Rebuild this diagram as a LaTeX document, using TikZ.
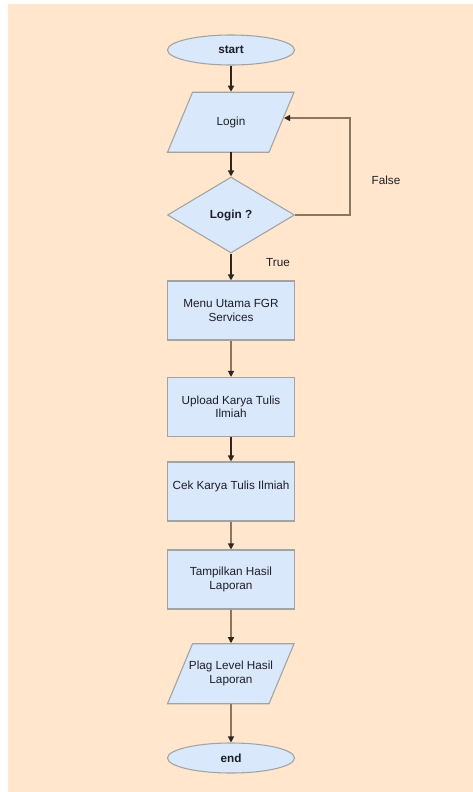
\documentclass[tikz,border=0pt]{standalone}
\usepackage{fontspec}
\setmainfont{Liberation Sans}
\usetikzlibrary{shapes.geometric,arrows.meta,backgrounds}
\definecolor{peach}{HTML}{FFE6CC}
\definecolor{boxfill}{HTML}{DAE8FC}
\definecolor{boxline}{HTML}{A3A3A3}
\definecolor{arrdark}{HTML}{2E261E}
\definecolor{arrlight}{HTML}{8A7763}
\definecolor{txt}{HTML}{1E1E28}
\begin{document}
\begin{tikzpicture}[x=0.75pt,y=-0.75pt,
  every node/.style={font=\fontsize{8.8pt}{10pt}\selectfont, text=txt},
  shp/.style={draw=boxline, fill=boxfill, line width=0.8pt},
  term/.style={shp, ellipse, minimum width=95.25pt, minimum height=22.5pt, inner sep=0pt,
    font=\fontsize{8.8pt}{10pt}\selectfont\bfseries},
  procbox/.style={shp, rectangle, minimum width=95.25pt, minimum height=44.25pt, inner sep=0pt, align=center},
  paratext/.style={rectangle, minimum width=76.1pt, minimum height=45pt, inner sep=0pt, align=center},
  decis/.style={shp, diamond, minimum width=95.25pt, minimum height=57pt, inner sep=0pt,
    font=\fontsize{8.8pt}{10pt}\selectfont\bfseries},
  lbl/.style={inner sep=0pt},
  arr/.style={-{Triangle[length=4.5pt,width=4.5pt,color=arrdark]}, line width=1.1pt, draw=arrdark},
  arrl/.style={-{Triangle[length=4.5pt,width=4.5pt,color=arrdark]}, line width=0.9pt, draw=arrlight}
]
\useasboundingbox (0,0) rectangle (473,792);
\begin{pgfonlayer}{background}
  \fill[peach] (8,4) rectangle (473,792);
\end{pgfonlayer}

\node[term] (start) at (231,50) {start};
\node[paratext] (login) at (231,122) {Login};
\node[decis] (dia) at (231,215) {Login ?};
\node[procbox] (menu) at (231,310.5) {Menu Utama FGR\\Services};
\node[procbox] (upload) at (231,407) {Upload Karya Tulis\\Ilmiah};
\node[procbox] (cek) at (231,491.5) {Cek Karya Tulis Ilmiah\\\mbox{}};
\node[procbox] (tamp) at (231,579.5) {Tampilkan Hasil\\Laporan};
\node[paratext] (plag) at (231,673.5) {Plag Level Hasil\\Laporan};
\node[term] (endn) at (231,758) {end};

\begin{pgfonlayer}{background}
  \draw[shp] (login.south west) ++(-12.5,0) -- ++(101.5,0) -- ++(25,-60) -- ++(-101.5,0) -- cycle;
  \draw[shp] (plag.south west) ++(-12.5,0) -- ++(101.5,0) -- ++(25,-60) -- ++(-101.5,0) -- cycle;
\end{pgfonlayer}

\node[lbl] (falselbl) at (386,180) {False};
\node[lbl] (truelbl) at (278,263) {True};

\coordinate (loopc) at (350,118);
\coordinate (loginR) at (284,118);

\draw[arr] (start) -- (login);
\draw[arr] (login) -- (dia);
\draw[arr] (dia) -- (menu);
\draw[arrl] (menu) -- (upload);
\draw[arr] (upload) -- (cek);
\draw[arrl] (cek) -- (tamp);
\draw[arrl] (tamp) -- (plag);
\draw[arrl] (plag) -- (endn);
\draw[arrl] (dia.east) -| (loopc) -- (loginR);
\end{tikzpicture}
\end{document}
